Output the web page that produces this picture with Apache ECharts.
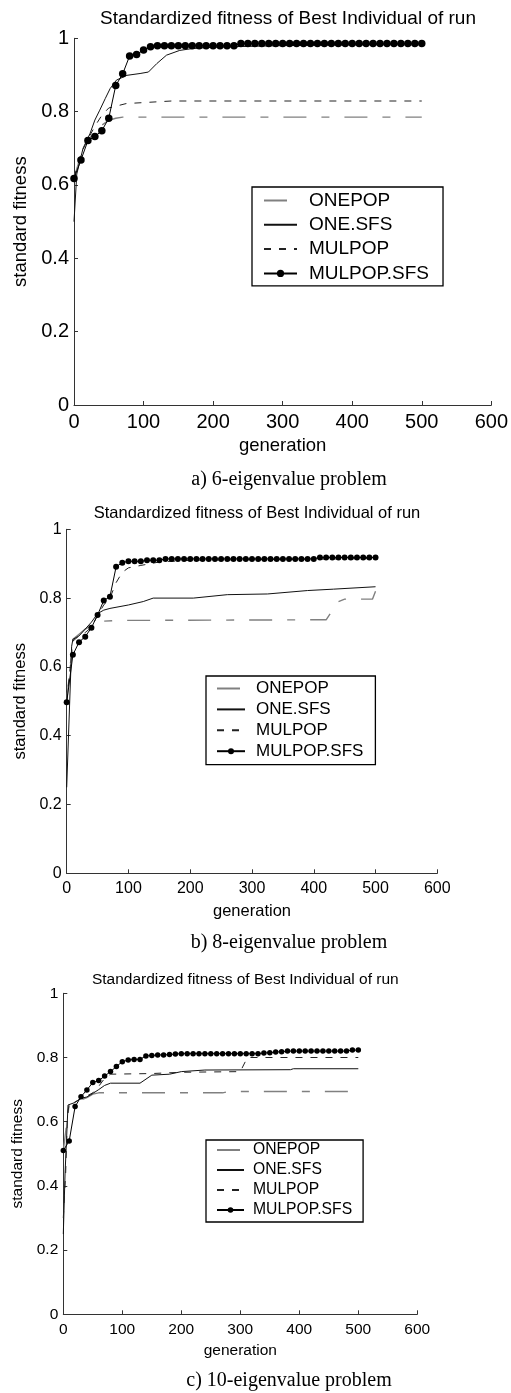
<!DOCTYPE html>
<html>
<head>
<meta charset="utf-8">
<script src="https://cdn.jsdelivr.net/npm/echarts@6/dist/echarts.min.js"></script>
<style>
html,body{margin:0;padding:0;background:#fff;}
#c{width:511px;height:1393px;}
</style>
</head>
<body>
<div id="c"></div>
<script>
// ---------- data ----------
const seriesNames = ['ONEPOP', 'ONE.SFS', 'MULPOP', 'MULPOP.SFS'];
const chartTitle = 'Standardized fitness of Best Individual of run';
const captions = ['a) 6-eigenvalue problem', 'b) 8-eigenvalue problem', 'c) 10-eigenvalue problem'];
const xTicks = [0, 100, 200, 300, 400, 500, 600];
const yTicks = [0, 0.2, 0.4, 0.6, 0.8, 1];

// generations where MULPOP.SFS markers are plotted
const sfsGens = [0,10,20,30,40,50,60,70,80,90,100,110,120,130,140,150,160,170,180,190,200,
  210,220,230,240,250,260,270,280,290,300,310,320,330,340,350,360,370,380,390,400,
  410,420,430,440,450,460,470,480,490,500];

// panel a) 6-eigenvalue
const p1MulSfs = [0.618,0.668,0.721,0.732,0.748,0.782,0.871,0.903,0.952,0.956,0.968,0.977,
  0.980,0.980,0.980,0.980,0.980,0.980,0.980,0.980,0.980,0.980,0.980,0.980,
  0.986,0.986,0.986,0.986,0.986,0.986,0.986,0.986,0.986,0.986,0.986,0.986,0.986,0.986,
  0.986,0.986,0.986,0.986,0.986,0.986,0.986,0.986,0.986,0.986,0.986,0.986,0.986];
const p1OnePop = [[0,0.62],[10,0.68],[20,0.722],[30,0.745],[40,0.763],[50,0.776],[60,0.782],[70,0.785],[500,0.785]];
const p1OneSfs = [[0,0.5],[4,0.63],[13,0.70],[23,0.74],[30,0.777],[37,0.804],[45,0.836],[52,0.863],[61,0.886],
  [76,0.899],[95,0.904],[107,0.908],[119,0.931],[133,0.954],[152,0.967],[170,0.972],[200,0.976],[300,0.98],[500,0.985]];
const p1MulPop = [[0,0.62],[10,0.685],[20,0.725],[30,0.76],[40,0.79],[50,0.81],[75,0.822],[140,0.829],[500,0.829]];

// panel b) 8-eigenvalue
const p2MulSfs = [0.497,0.635,0.672,0.688,0.714,0.751,0.793,0.804,0.891,0.903,0.907,0.907,0.907,0.910,0.910,0.910,
  0.914,0.914,0.914,0.914,0.914,0.914,0.914,0.914,0.914,0.914,0.914,0.914,0.914,0.914,0.914,0.914,
  0.914,0.914,0.914,0.914,0.914,0.914,0.914,0.914,0.914,
  0.918,0.918,0.918,0.918,0.918,0.918,0.918,0.918,0.918,0.918];
const p2OnePop = [[0,0.5],[10,0.68],[20,0.695],[30,0.71],[40,0.72],[50,0.728],[60,0.733],[80,0.735],[420,0.737],
  [440,0.79],[450,0.797],[495,0.797],[500,0.82]];
const p2OneSfs = [[0,0.25],[8,0.66],[10,0.68],[20,0.69],[30,0.71],[40,0.73],[50,0.755],[60,0.765],[70,0.77],[100,0.78],
  [124,0.79],[140,0.80],[205,0.80],[260,0.81],[325,0.812],[390,0.822],[432,0.826],[500,0.833]];
const p2MulPop = [[0,0.5],[10,0.675],[20,0.69],[30,0.70],[40,0.715],[50,0.75],[60,0.78],[70,0.80],[80,0.845],[90,0.875],
  [100,0.888],[120,0.895],[150,0.905],[200,0.91],[500,0.915]];

// panel c) 10-eigenvalue
const p3MulSfs = [0.51,0.54,0.647,0.678,0.699,0.722,0.728,0.742,0.756,0.772,0.787,0.792,0.794,0.794,0.805,0.806,0.808,0.808,0.809,0.811,
  0.812,0.812,0.812,0.812,0.812,0.812,0.812,0.812,0.812,0.812,0.812,0.812,0.812,0.812,
  0.814,0.815,0.817,0.818,
  0.82,0.82,0.82,0.82,0.82,0.82,0.82,0.82,0.82,0.82,0.82,
  0.823,0.823];
const p3OnePop = [[0,0.51],[10,0.655],[20,0.663],[30,0.668],[40,0.675],[50,0.686],[60,0.69],[270,0.69],[280,0.694],[500,0.694]];
const p3OneSfs = [[0,0.25],[3,0.44],[8,0.652],[20,0.66],[30,0.673],[40,0.677],[50,0.688],[60,0.70],[70,0.713],[80,0.72],
  [130,0.72],[150,0.745],[180,0.748],[200,0.756],[240,0.761],[385,0.762],[390,0.765],[500,0.765]];
const p3MulPop = [[0,0.3],[4,0.44],[7,0.62],[10,0.655],[20,0.662],[30,0.672],[40,0.68],[50,0.69],[60,0.71],[70,0.735],
  [80,0.748],[150,0.75],[200,0.754],[300,0.756],[312,0.80],[500,0.80]];

// ---------- layout ----------
const panels = [
  {grid:{left:74, top:38.3, width:418, height:366.7}, font:20, titleFont:19, titleY:4, nameFont:18.5,
   xNameGap:31, yNameGap:35, tickLen:4, markSize:7.5,
   legend:{left:252, top:187, font:19, itemWidth:33, itemHeight:9, gap:5.3, pad:[4,14,3,11], textPad:7},
   caption:{y:480},
   data:{onePop:p1OnePop, oneSfs:p1OneSfs, mulPop:p1MulPop, mulSfs:p1MulSfs}},
  {grid:{left:66.7, top:529.3, width:370.6, height:344}, font:16, titleFont:16.5, titleY:500, nameFont:16.5,
   xNameGap:30, yNameGap:30, tickLen:4, markSize:6,
   legend:{left:206, top:676, font:17, itemWidth:28, itemHeight:7.5, gap:3.9, pad:[4,12,5,10], textPad:6},
   caption:{y:943},
   data:{onePop:p2OnePop, oneSfs:p2OneSfs, mulPop:p2MulPop, mulSfs:p2MulSfs}},
  {grid:{left:63.3, top:993.3, width:354, height:321}, font:15.5, titleFont:15.5, titleY:967, nameFont:15.5,
   xNameGap:28, yNameGap:28, tickLen:4, markSize:5.5,
   legend:{left:206, top:1140, font:15.7, itemWidth:27, itemHeight:7, gap:4, pad:[2,11,4,10], textPad:4},
   caption:{y:1381},
   data:{onePop:p3OnePop, oneSfs:p3OneSfs, mulPop:p3MulPop, mulSfs:p3MulSfs}}
];

const sans = '"Liberation Sans", Arial, sans-serif';
const serif = '"Liberation Serif", "Times New Roman", serif';

const option = {
  animation: false,
  backgroundColor: '#fff',
  title: [], grid: [], xAxis: [], yAxis: [], legend: [], series: [], graphic: []
};

panels.forEach((p, i) => {
  option.grid.push(Object.assign({containLabel:false}, p.grid));
  option.title.push({
    text: chartTitle,
    left: p.grid.left + p.grid.width / 2, top: p.titleY, textAlign: 'center',
    textStyle: {fontFamily: sans, fontSize: p.titleFont, fontWeight: 'normal', color: '#000'}
  });
  option.xAxis.push({
    type: 'value', gridIndex: i, min: xTicks[0], max: xTicks[xTicks.length-1], interval: 100,
    name: 'generation', nameLocation: 'middle', nameGap: p.xNameGap,
    nameTextStyle: {fontFamily: sans, fontSize: p.nameFont, color: '#000'},
    axisLine: {show: true, onZero: false, lineStyle: {color: '#333', width: 1}},
    axisTick: {show: true, inside: true, length: p.tickLen, lineStyle: {color: '#333'}},
    axisLabel: {fontFamily: sans, fontSize: p.font, color: '#000', margin: 7},
    splitLine: {show: false}
  });
  option.yAxis.push({
    type: 'value', gridIndex: i, min: yTicks[0], max: yTicks[yTicks.length-1], interval: 0.2,
    name: 'standard fitness', nameLocation: 'middle', nameGap: p.yNameGap,
    nameTextStyle: {fontFamily: sans, fontSize: p.nameFont, color: '#000'},
    axisLine: {show: true, onZero: false, lineStyle: {color: '#333', width: 1}},
    axisTick: {show: true, inside: true, length: p.tickLen, lineStyle: {color: '#333'}},
    axisLabel: {fontFamily: sans, fontSize: p.font, color: '#000', margin: 5},
    splitLine: {show: false}
  });
  const L = p.legend;
  option.legend.push({
    orient: 'vertical', left: L.left, top: L.top,
    padding: L.pad, itemGap: L.gap, itemWidth: L.itemWidth, itemHeight: L.itemHeight,
    borderColor: '#000', borderWidth: 1.3, backgroundColor: '#fff', borderRadius: 0,
    selectedMode: false,
    data: seriesNames.map(n => n === 'MULPOP.SFS' ? {name: n} : {name: n, itemStyle: {opacity: 0}}),
    textStyle: {fontFamily: sans, fontSize: L.font, color: '#000', padding: [0,0,0,L.textPad]}
  });
  const base = {type: 'line', xAxisIndex: i, yAxisIndex: i, silent: true, animation: false};
  option.series.push(Object.assign({}, base, {
    name: 'ONEPOP', data: p.data.onePop, symbol: 'none', z: 2,
    lineStyle: {color: '#808080', width: 1.4, type: [23, 15, 8, 15]}, itemStyle: {color: '#808080'}
  }));
  option.series.push(Object.assign({}, base, {
    name: 'ONE.SFS', data: p.data.oneSfs, symbol: 'none', z: 3,
    lineStyle: {color: '#111', width: 1}, itemStyle: {color: '#111'}
  }));
  option.series.push(Object.assign({}, base, {
    name: 'MULPOP', data: p.data.mulPop, symbol: 'none', z: 3,
    lineStyle: {color: '#222', width: 1, type: [7, 8]}, itemStyle: {color: '#222'}
  }));
  option.series.push(Object.assign({}, base, {
    name: 'MULPOP.SFS', data: sfsGens.map((g, k) => [g, p.data.mulSfs[k]]),
    symbol: 'circle', symbolSize: p.markSize, showSymbol: true, z: 5,
    lineStyle: {color: '#000', width: 1}, itemStyle: {color: '#000'}
  }));
  option.graphic.push({
    type: 'text', x: 289, y: p.caption.y,
    style: {text: captions[i], font: '20px ' + serif, fill: '#000', align: 'center', verticalAlign: 'middle'}
  });
});

const chart = echarts.init(document.getElementById('c'), null, {renderer: 'canvas'});
chart.setOption(option);
</script>
</body>
</html>
